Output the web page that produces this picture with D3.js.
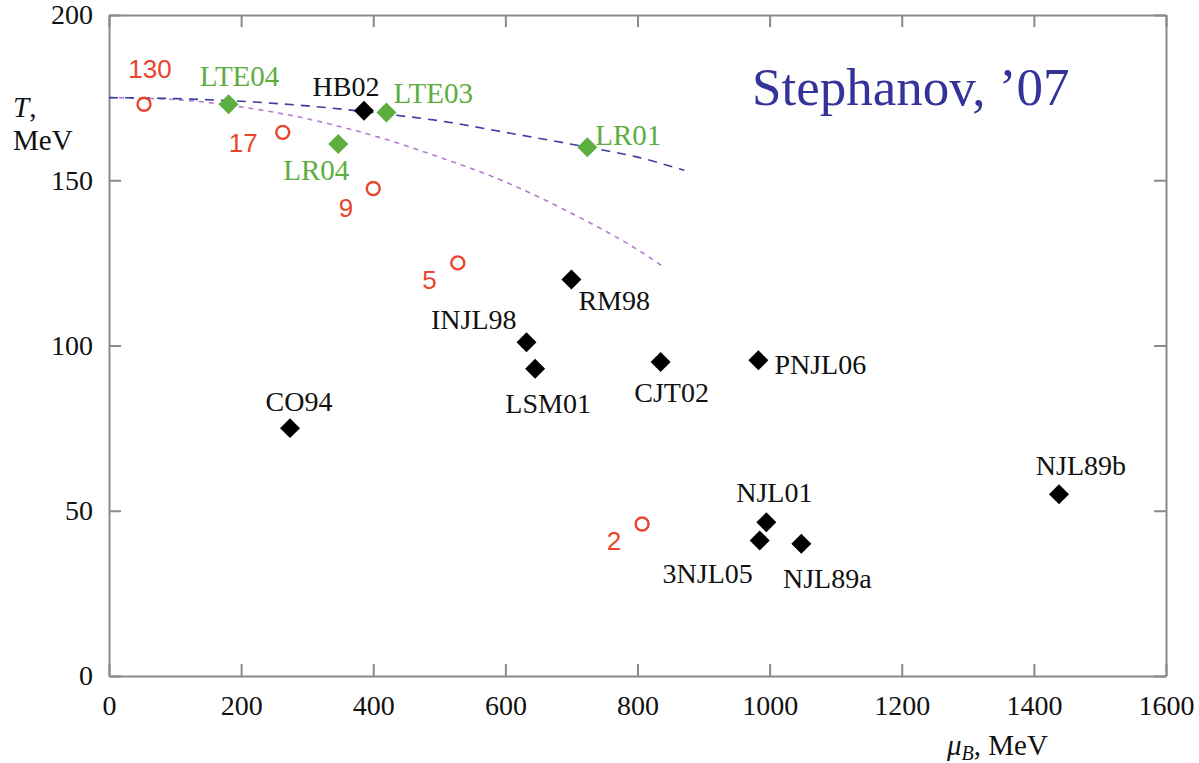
<!DOCTYPE html>
<html lang="en">
<head>
<meta charset="UTF-8">
<title>QCD critical point</title>
<style>
  body { margin: 0; background: #fff; }
</style>
</head>
<body>
<script src="https://cdn.jsdelivr.net/npm/d3@7"></script>
<script>

// freeze-out points (open red circles), label = sqrt(s)
const fo_names = ['130', '17', '9', '5', '2'];
const fo_mu = [53, 263, 400, 528, 807];
const fo_T = [173, 164.5, 147.5, 125, 46];

// lattice estimates (green diamonds)
const lat_names = ['LTE04', 'LR04', 'LTE03', 'LR01'];
const lat_mu = [181, 347, 420, 724];
const lat_T = [173, 161, 170.5, 160];

// model estimates (black diamonds)
const mod_names = ['HB02', 'RM98', 'INJL98', 'LSM01', 'CJT02', 'PNJL06', 'CO94',
                   'NJL01', '3NJL05', 'NJL89a', 'NJL89b'];
const mod_mu = [386, 700, 632, 645, 835, 983, 274, 995, 985, 1048, 1438];
const mod_T = [171, 120, 101, 93, 95, 95.5, 75, 46.5, 41, 40, 55];

// transition lines
const blue_mu = [0, 100, 200, 300, 420, 500, 600, 724, 800, 871];
const blue_T = [175, 174.7, 173.9, 172.5, 170, 168, 164.5, 160, 157, 153];
const pink_mu = [0, 100, 200, 300, 400, 500, 600, 700, 800, 838];
const pink_T = [175, 174.4, 172.2, 168.6, 163.5, 157, 149.5, 140, 129, 124];

const x_ticks = [0, 200, 400, 600, 800, 1000, 1200, 1400, 1600];
const y_ticks = [0, 50, 100, 150, 200];

// label placement, pixels relative to the marker
const label_pos = {
    '130': [6, -26, 'middle'], '17': [-25, 20, 'end'], '9': [-20, 28, 'end'],
    '5': [-21, 26, 'end'], '2': [-21, 26, 'end'],
    'LTE04': [11, -18, 'middle'], 'LR04': [-22, 36, 'middle'],
    'LTE03': [7, -9, 'start'], 'LR01': [8, -2, 'start'],
    'HB02': [-18, -15, 'middle'], 'RM98': [7, 31, 'start'], 'INJL98': [-10, -13, 'end'],
    'LSM01': [13, 44, 'middle'], 'CJT02': [11, 40, 'middle'], 'PNJL06': [16, 14, 'start'],
    'CO94': [9, -17, 'middle'], 'NJL01': [8, -20, 'middle'], '3NJL05': [-52, 43, 'middle'],
    'NJL89a': [26, 44, 'middle'], 'NJL89b': [22, -19, 'middle']
};

const width = 1199, height = 763;
const axis_color = '#8a8a8a';
const red = '#e8452c', green = '#5cae3e', blue = '#3b3f9e', pink = '#b47ad0';
const serif = '"Liberation Serif", "DejaVu Serif", serif';

const svg = d3.select('body').append('svg')
    .attr('width', width)
    .attr('height', height);

const x = d3.scaleLinear().domain([0, 1600]).range([109, 1166]);
const y = d3.scaleLinear().domain([0, 200]).range([676, 15]);

// frame with inward ticks on all four sides
function style_axis(g){
    g.select('.domain').attr('stroke', axis_color).attr('stroke-width', 2);
    g.selectAll('.tick line').attr('stroke', axis_color).attr('stroke-width', 2);
    g.selectAll('.tick text')
        .attr('fill', '#111')
        .style('font-family', serif)
        .style('font-size', '28px');
}

const fmt = d3.format('d');

svg.append('g')
    .attr('transform', 'translate(0,' + y(0) + ')')
    .call(d3.axisBottom(x).tickValues(x_ticks).tickFormat(fmt).tickSize(-12).tickSizeOuter(0).tickPadding(19))
    .call(style_axis);
svg.append('g')
    .attr('transform', 'translate(0,' + y(200) + ')')
    .call(d3.axisTop(x).tickValues(x_ticks).tickSize(-12).tickSizeOuter(0).tickFormat(''))
    .call(style_axis);
svg.append('g')
    .attr('transform', 'translate(' + x(0) + ',0)')
    .call(d3.axisLeft(y).tickValues(y_ticks).tickFormat(fmt).tickSize(-12).tickSizeOuter(0).tickPadding(16))
    .call(style_axis);
svg.append('g')
    .attr('transform', 'translate(' + x(1600) + ',0)')
    .call(d3.axisRight(y).tickValues(y_ticks).tickSize(-12).tickSizeOuter(0).tickFormat(''))
    .call(style_axis);

// axis titles
function title_text(xp, yp){
    return svg.append('text').attr('x', xp).attr('y', yp)
        .attr('fill', '#111')
        .style('font-family', serif)
        .style('font-size', '29px');
}
let yt = title_text(13, 117);
yt.append('tspan').style('font-style', 'italic').text('T');
yt.append('tspan').text(',');
title_text(13, 150).text('MeV');

let xt = title_text(947, 755);
xt.append('tspan').style('font-style', 'italic').text('μ');
xt.append('tspan').style('font-style', 'italic').style('font-size', '20px').attr('dy', 5).text('B');
xt.append('tspan').attr('dy', -5).text(', MeV');

// curves
const line = d3.line().x(d => x(d[0])).y(d => y(d[1])).curve(d3.curveMonotoneX);

svg.append('path')
    .datum(pink_mu.map((m, i) => [m, pink_T[i]]))
    .attr('d', line)
    .attr('fill', 'none')
    .attr('stroke', pink)
    .attr('stroke-width', 1.6)
    .attr('stroke-dasharray', '5,5');

svg.append('path')
    .datum(blue_mu.map((m, i) => [m, blue_T[i]]))
    .attr('d', line)
    .attr('fill', 'none')
    .attr('stroke', blue)
    .attr('stroke-width', 1.6)
    .attr('stroke-dasharray', '9,7');

// markers
const diamond = d3.symbol().type(d3.symbolSquare).size(200);

function draw_diamonds(names, mu, T, color){
    svg.selectAll(null)
        .data(names)
        .enter()
        .append('path')
        .attr('d', diamond)
        .attr('transform', (d, i) => 'translate(' + x(mu[i]) + ',' + y(T[i]) + ') rotate(45)')
        .attr('fill', color);
}

function draw_labels(names, mu, T, color, font, size){
    svg.selectAll(null)
        .data(names)
        .enter()
        .append('text')
        .attr('x', (d, i) => x(mu[i]) + label_pos[d][0])
        .attr('y', (d, i) => y(T[i]) + label_pos[d][1])
        .attr('text-anchor', d => label_pos[d][2])
        .attr('fill', color)
        .style('font-family', font)
        .style('font-size', size)
        .text(d => d);
}

draw_diamonds(mod_names, mod_mu, mod_T, '#000');
draw_diamonds(lat_names, lat_mu, lat_T, green);

svg.selectAll('.fo')
    .data(fo_names)
    .enter()
    .append('circle')
    .attr('class', 'fo')
    .attr('cx', (d, i) => x(fo_mu[i]))
    .attr('cy', (d, i) => y(fo_T[i]))
    .attr('r', 6.5)
    .attr('fill', 'none')
    .attr('stroke', red)
    .attr('stroke-width', 2.4);

draw_labels(mod_names, mod_mu, mod_T, '#111', serif, '28px');
draw_labels(lat_names, lat_mu, lat_T, green, serif, '29px');
draw_labels(fo_names, fo_mu, fo_T, red, '"Liberation Sans", Arial, sans-serif', '26px');

svg.append('text')
    .attr('x', 752)
    .attr('y', 105)
    .attr('fill', '#333399')
    .style('font-family', serif)
    .style('font-size', '53px')
    .text('Stephanov, ’07');

</script>
</body>
</html>
